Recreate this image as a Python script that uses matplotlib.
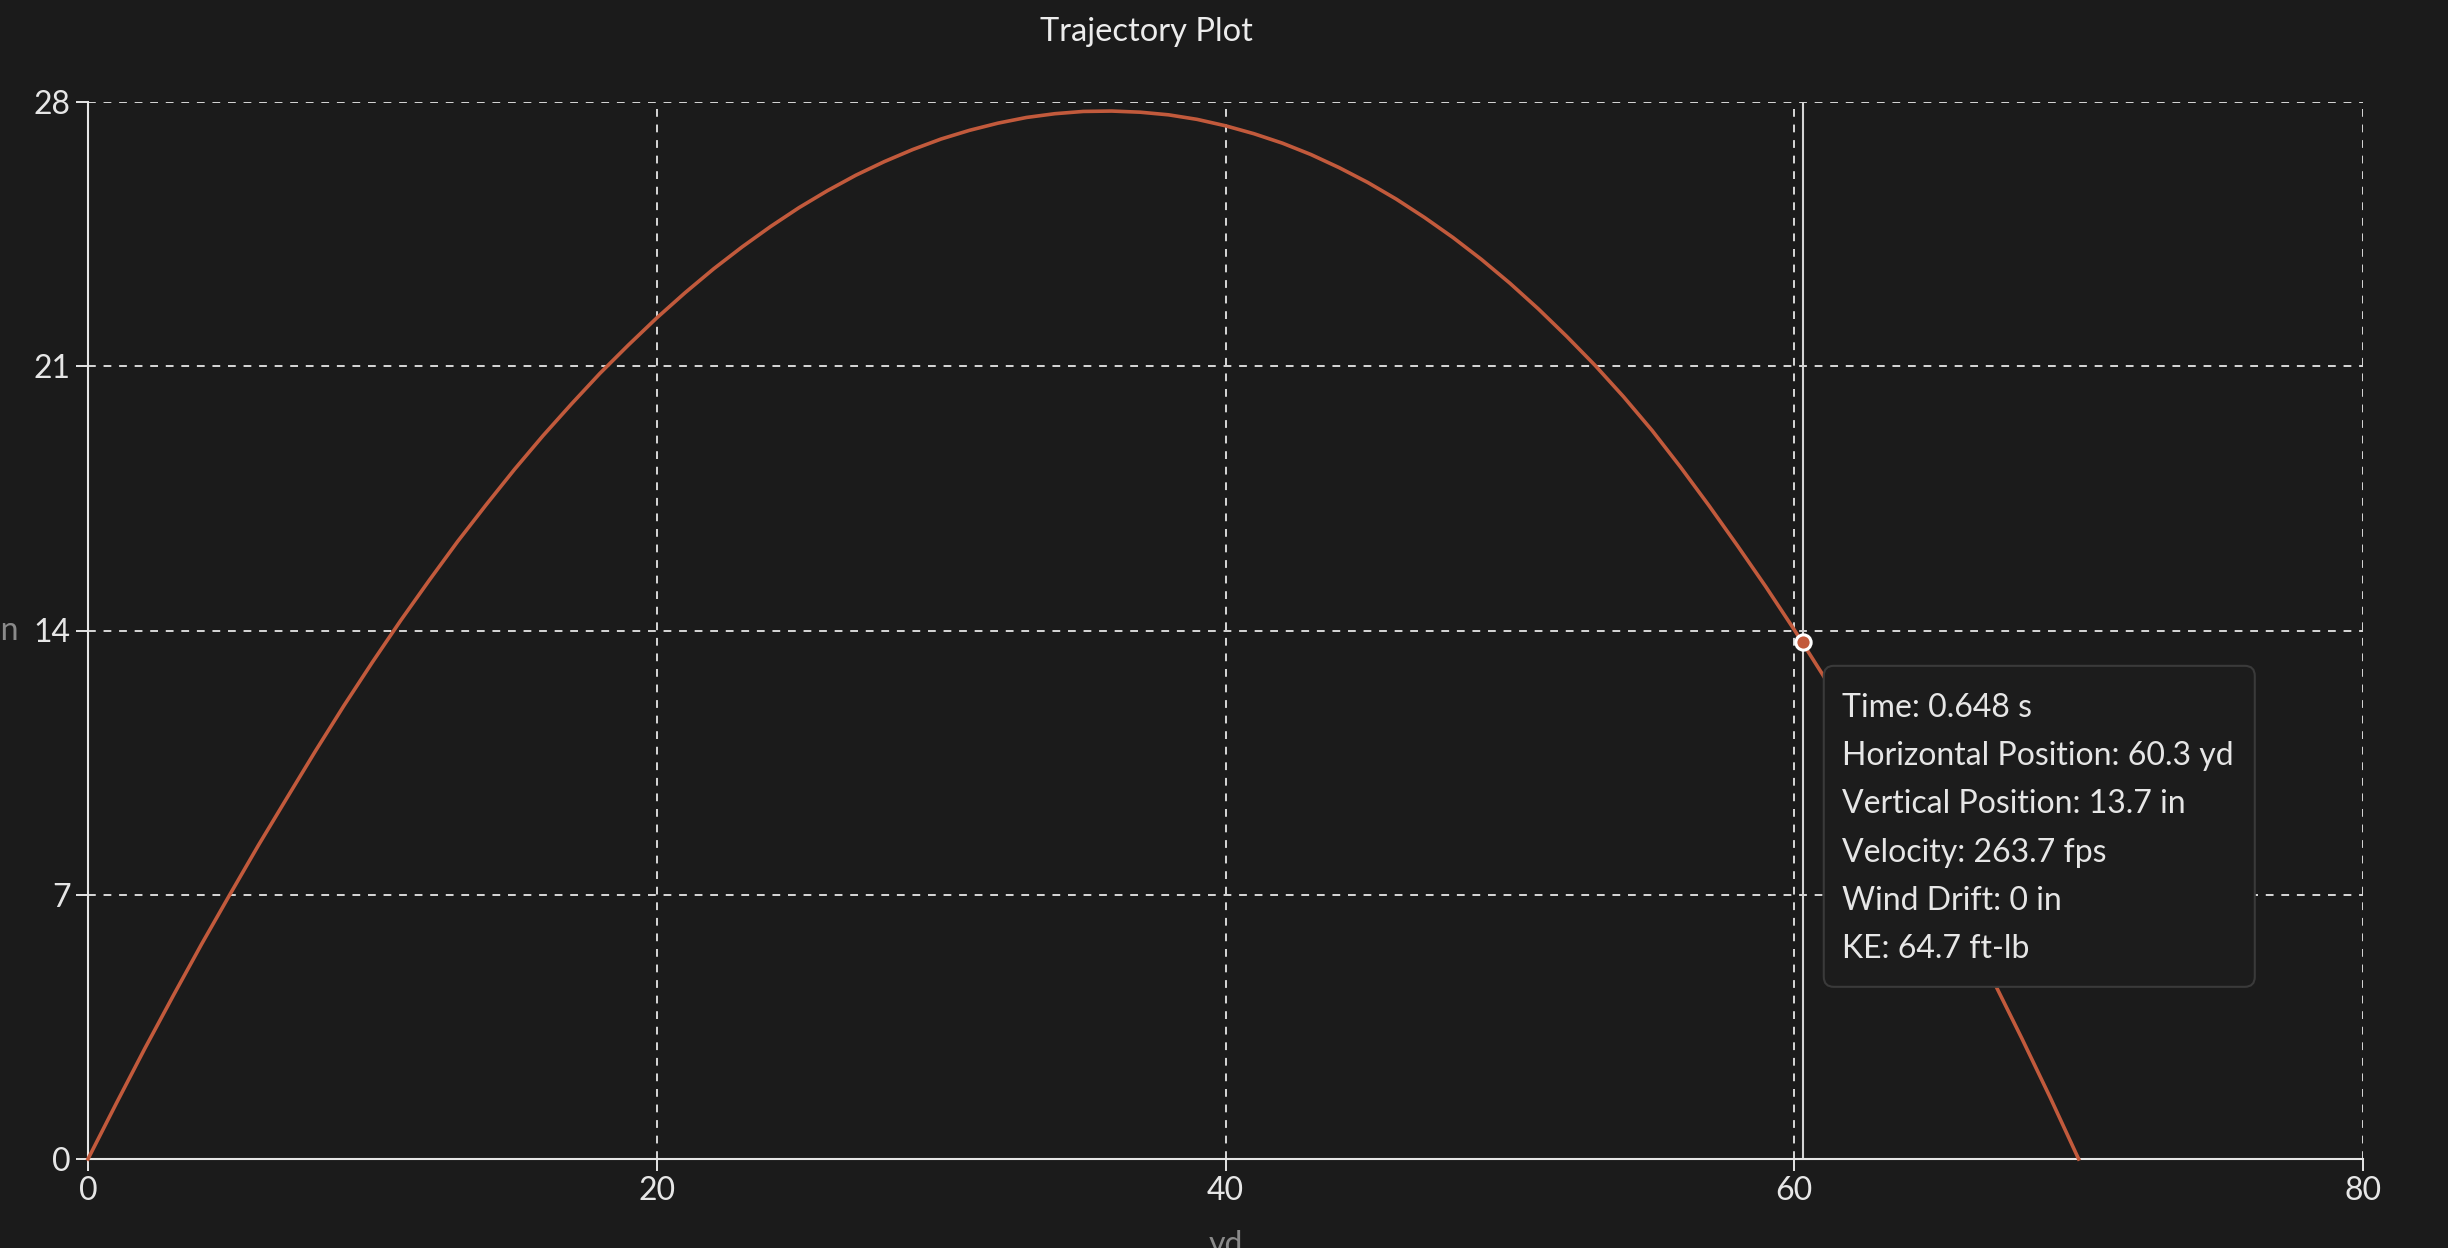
import matplotlib
matplotlib.use("Agg")
import matplotlib.pyplot as plt
from matplotlib.patches import FancyBboxPatch
from matplotlib.transforms import IdentityTransform

# trajectory, one point per yard (yards downrange, inches of height)
range_yd = list(range(0, 71))
height_in = [0.00, 1.48, 2.93, 4.33, 5.70, 7.02, 8.32, 9.57, 10.81, 12.01,
             13.16, 14.27, 15.33, 16.36, 17.33, 18.27, 19.16, 20.00, 20.81, 21.56,
             22.28, 22.95, 23.58, 24.16, 24.70, 25.20, 25.65, 26.06, 26.42, 26.74,
             27.02, 27.25, 27.44, 27.59, 27.69, 27.75, 27.76, 27.73, 27.66, 27.54,
             27.37, 27.16, 26.91, 26.61, 26.26, 25.87, 25.43, 24.94, 24.41, 23.83,
             23.20, 22.52, 21.79, 21.02, 20.19, 19.30, 18.33, 17.31, 16.25, 15.16,
             14.02, 12.83, 11.59, 10.31, 8.99, 7.61, 6.19, 4.72, 3.20, 1.63,
             0.00]

x_ticks = [0, 20, 40, 60, 80]
y_ticks = [0, 7, 14, 21, 28]

# hovered point and its tooltip values
hover_time = 0.648
hover_x = 60.3
hover_y = 13.7
hover_velocity = 263.7
hover_drift = 0
hover_ke = 64.7

BG = "#1b1b1b"
FG = "#e6e6e6"
LINE = "#c25a3c"

plt.rcParams["font.family"] = ["Lato", "DejaVu Sans"]

W, H = 2448, 1248
fig = plt.figure(figsize=(W / 100, H / 100), dpi=100, facecolor=BG)
ax = fig.add_axes([88 / W, 89 / H, 2275 / W, 1057 / H], facecolor=BG)

ax.plot(range_yd, height_in, color=LINE, lw=2.6, zorder=3, clip_on=False,
        solid_joinstyle="round")
ax.set_xlim(0, 80)
ax.set_ylim(0, 28)
ax.set_xticks(x_ticks)
ax.set_yticks(y_ticks)

ax.set_axisbelow(True)
ax.grid(True, color="#d8d8d8", lw=1.4, linestyle=(0, (4, 4)))
for s in ["top", "right"]:
    ax.spines[s].set_visible(False)
for s in ["left", "bottom"]:
    ax.spines[s].set_color(FG)
    ax.spines[s].set_linewidth(1.5)
ax.tick_params(colors=FG, labelcolor=FG, length=8.6, width=1.4, labelsize=23, pad=4)

ax.set_xlabel("yd", color="#8a8a8a", fontsize=23)
ax.xaxis.set_label_coords(0.5, -71 / 1057)
ax.set_ylabel("in", color="#8a8a8a", fontsize=23, rotation=0, ha="right", va="center")
ax.yaxis.set_label_coords(-69 / 2275, 0.5)

# hover crosshair + marker
ax.axvline(hover_x, color="#d4d4d4", lw=1.5, zorder=2.5)
ax.plot([hover_x], [hover_y], "o", ms=11, mfc=LINE, mec="white", mew=2.2, zorder=6, clip_on=False)

fig.text(1146 / W, 1 - 41 / H, "Trajectory Plot", ha="center", va="baseline",
         fontsize=23.5, color="#ececec")

# tooltip box in pixel coords, anchored on the hovered point
px, py = ax.transData.transform((hover_x, hover_y))
left = px + 21
top = py - 24
bw, bh = 431, 321
box = FancyBboxPatch((left, top - bh), bw, bh, boxstyle="round,pad=0,rounding_size=10",
                     transform=IdentityTransform(), fc="#1c1c1c", ec="#3a3a3a", lw=1.5, zorder=7)
fig.add_artist(box)

lines = [
    f"Time: {hover_time} s",
    f"Horizontal Position: {hover_x} yd",
    f"Vertical Position: {hover_y} in",
    f"Velocity: {hover_velocity} fps",
    f"Wind Drift: {hover_drift} in",
    f"KE: {hover_ke} ft-lb",
]
for i, t in enumerate(lines):
    fig.text(left + 18, top - 51 - i * 48.3, t, transform=IdentityTransform(),
             ha="left", va="baseline", fontsize=23, color=FG, zorder=8)

fig.savefig("out.png", dpi=100, facecolor=BG)
